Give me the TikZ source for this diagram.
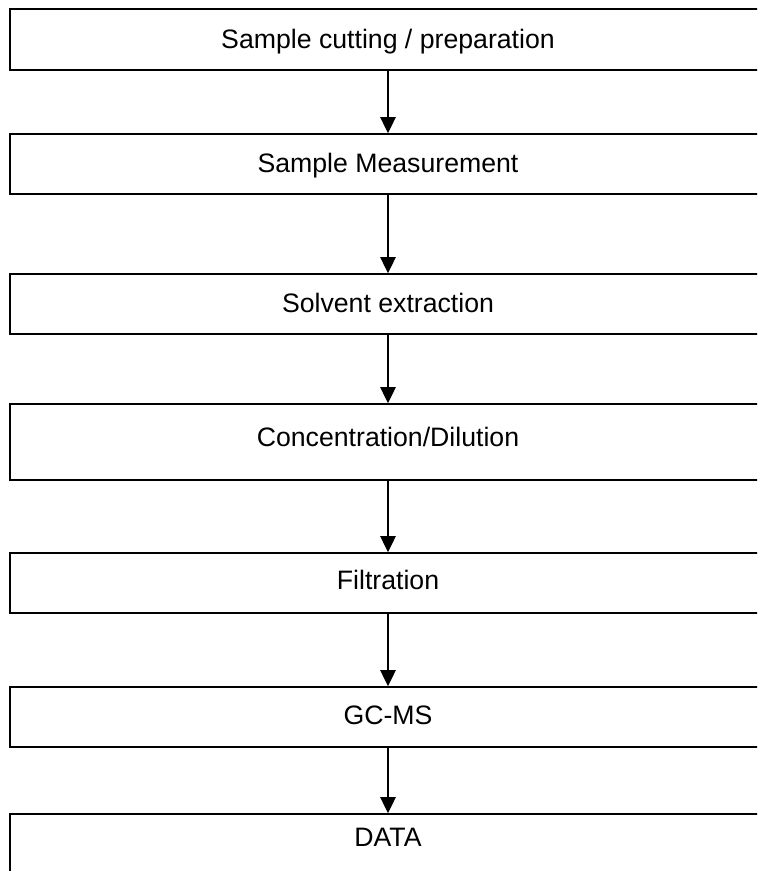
\documentclass[tikz,border=0pt]{standalone}
\usepackage{fontspec}
\setmainfont{Liberation Sans}
\usetikzlibrary{arrows.meta}

\begin{document}
\begin{tikzpicture}[x=0.75pt, y=-0.75pt,
  stepbox/.style={draw, line width=1.2pt, inner sep=0pt, minimum width=567pt,
    font=\fontsize{20}{24}\selectfont},
  flow/.style={draw, line width=1.1pt, -{Triangle[width=11.5pt, length=12pt]}}]
  \useasboundingbox (0,0) rectangle (757,871);
  \clip (0,0) rectangle (757,871);

  % process steps, top to bottom
  \node[stepbox, text height=29.6pt, text depth=16.15pt] (cut)  at (388,39.5) {Sample cutting / preparation};
  \node[stepbox, text height=28.5pt, text depth=16.5pt]  (meas) at (388,164)  {Sample Measurement};
  \node[stepbox, text height=28.5pt, text depth=16.5pt]  (ext)  at (388,304)  {Solvent extraction};
  \node[stepbox, text height=31.5pt, text depth=25.5pt]  (conc) at (388,442)  {Concentration/Dilution};
  \node[stepbox, text height=27pt,   text depth=18pt]    (filt) at (388,583)  {Filtration};
  \node[stepbox, text height=27.8pt, text depth=17.2pt]  (gcms) at (388,717)  {GC-MS};
  \node[stepbox, text height=24pt,   text depth=22.5pt]  (data) at (388,845)  {DATA};

  % connectors
  \draw[flow] (cut)  -- (meas);
  \draw[flow] (meas) -- (ext);
  \draw[flow] (ext)  -- (conc);
  \draw[flow] (conc) -- (filt);
  \draw[flow] (filt) -- (gcms);
  \draw[flow] (gcms) -- (data);
\end{tikzpicture}
\end{document}
